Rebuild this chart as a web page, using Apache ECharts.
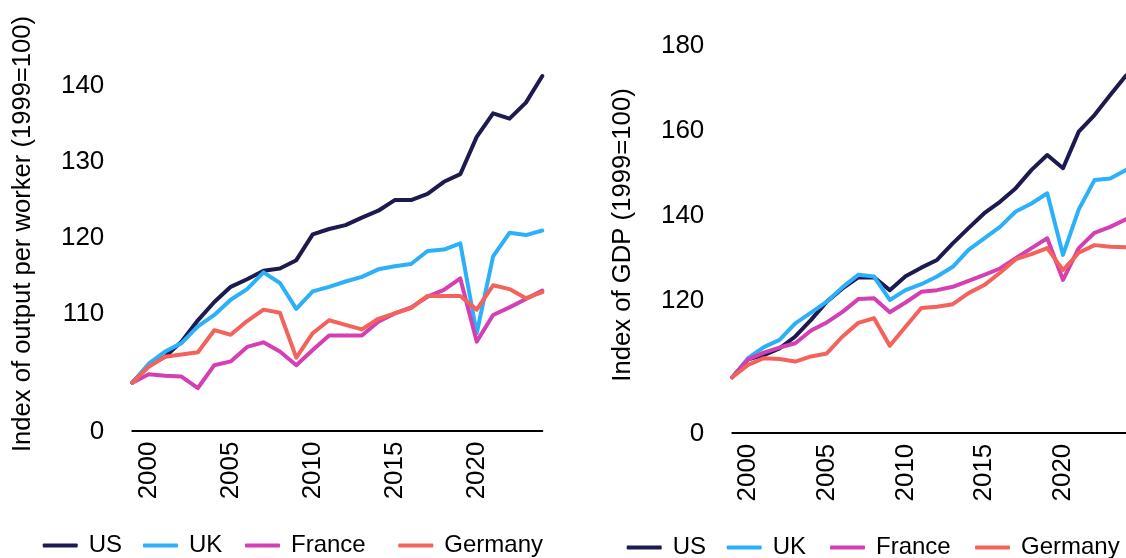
<!DOCTYPE html>
<html>
<head>
<meta charset="utf-8">
<script src="https://cdn.jsdelivr.net/npm/echarts@6/dist/echarts.min.js"></script>
<style>
html,body{margin:0;padding:0;background:#fff;}
#c{width:1126px;height:558px;}
</style>
</head>
<body>
<div id="c"></div>
<script>
// ---- data ----
const years = ['1999','2000','2001','2002','2003','2004','2005','2006','2007','2008','2009','2010','2011','2012','2013','2014','2015','2016','2017','2018','2019','2020','2021','2022','2023','2024'];
const seriesNames = ['US','UK','France','Germany'];

// Index of output per worker (1999=100)
const prodUS = [100,102.3,103.4,105.4,108.2,110.6,112.6,113.6,114.7,115.0,116.1,119.5,120.2,120.7,121.7,122.6,124.0,124.0,124.8,126.4,127.4,132.3,135.4,134.7,136.8,140.3];
const prodUK = [100,102.5,104.1,105.2,107.4,108.9,110.9,112.3,114.5,113.1,109.7,112.0,112.6,113.3,113.9,114.9,115.3,115.6,117.3,117.5,118.3,106.5,116.6,119.7,119.4,120.0];
const prodFrance = [100,101.1,100.9,100.8,99.3,102.3,102.8,104.7,105.3,104.1,102.3,104.3,106.2,106.2,106.2,108.0,109.1,109.9,111.3,112.2,113.7,105.4,108.9,109.9,111.0,112.1];
const prodGermany = [100,102.1,103.4,103.7,104.0,106.9,106.3,108.1,109.6,109.2,103.3,106.5,108.2,107.6,107.0,108.4,109.1,109.8,111.4,111.4,111.4,109.6,112.8,112.3,111.1,111.9];

// Index of GDP (1999=100)
const gdpUS = [100,104.2,105.2,106.8,109.6,113.5,117.8,120.9,123.5,123.5,120.5,123.8,125.8,127.6,131.5,135.1,138.6,141.3,144.5,148.8,152.3,149.2,157.8,161.7,166.4,171.0];
const gdpUK = [100,104.5,107.1,108.8,112.7,115.2,117.8,121.2,124.1,123.7,118.2,120.5,121.9,123.7,126.0,130.0,132.7,135.4,139.0,140.9,143.3,128.8,139.5,146.4,146.8,148.8];
const gdpFrance = [100,104.2,105.8,107.0,108.0,111.0,112.9,115.4,118.4,118.6,115.3,117.6,120.1,120.5,121.3,122.7,124.1,125.6,128.0,130.4,132.7,122.9,130.4,134.0,135.4,137.2];
const gdpGermany = [100,102.9,104.5,104.3,103.7,104.9,105.6,109.6,112.8,113.9,107.4,111.9,116.3,116.6,117.2,119.8,121.7,124.6,127.8,129.0,130.4,125.2,129.3,131.1,130.7,130.6];

// tick labels
const leftTicks = [110,120,130,140];
const rightTicks = [120,140,160,180];
const bottomLabel = '0';

const leftName = 'Index of output per worker (1999=100)';
const rightName = 'Index of GDP (1999=100)';

// ---- styles ----
const colors = {US:'#1c1a4e', UK:'#2bb0f9', France:'#d43fb4', Germany:'#f3625b'};
const FONT = '"Liberation Sans", Arial, sans-serif';

const leftMin = 93.72, leftMax = 145.36;
const rightMin = 86.96, rightMax = 180;

function yAxisCfg(idx, min, max, ticks, name, shift, nameSize){
  return {
    type:'value', gridIndex: idx, min:min, max:max,
    axisLine:{show:false}, axisTick:{show:false}, splitLine:{show:false},
    axisLabel:{
      customValues:[min].concat(ticks),
      margin:28, fontSize:26, fontFamily:FONT, color:'#000',
      formatter:function(v){ return v < 100 ? '{z|' + bottomLabel + '}' : '{n|' + Math.round(v) + '}'; },
      rich:{
        n:{fontSize:26, fontFamily:FONT, color:'#000', padding:[shift,0,0,0]},
        z:{fontSize:26, fontFamily:FONT, color:'#000', padding:[3,0,0,0]}
      }
    },
    name:name, nameLocation:'middle', nameGap:96,
    nameTextStyle:{fontSize:nameSize, fontFamily:FONT, color:'#000'}
  };
}
function xAxisCfg(idx){
  return {
    type:'category', gridIndex: idx, data: years, boundaryGap:false,
    axisLine:{lineStyle:{color:'#000', width:2}},
    axisTick:{show:false}, splitLine:{show:false},
    axisLabel:{
      rotate:90, margin:11, fontSize:26, fontFamily:FONT, color:'#000',
      interval:function(i, v){ return (+v) % 5 === 0; }
    }
  };
}
function lineSeries(name, data, idx){
  return {
    type:'line', name:name, data:data, xAxisIndex:idx, yAxisIndex:idx,
    symbol:'none', silent:true, animation:false,
    color: colors[name],
    lineStyle:{width:4, color:colors[name], join:'round', cap:'round'},
    itemStyle:{color:colors[name]}
  };
}
const legendLeftL = [42.7, 143, 245, 398.3];
const legendLeftR = [626.7, 726.7, 830, 975];
const legends = [];
seriesNames.forEach(function(n, i){
  [[legendLeftL[i], 531.5], [legendLeftR[i], 533.5]].forEach(function(p){
    legends.push({
      data:[n], left:p[0], top:p[1], icon:'roundRect', itemWidth:35, itemHeight:4,
      selectedMode:false, padding:0,
      textStyle:{fontSize:24, fontFamily:FONT, color:'#000', lineHeight:28, padding:[0,0,0,6]}
    });
  });
});

const chart = echarts.init(document.getElementById('c'), null, {renderer:'canvas'});
chart.setOption({
  backgroundColor:'#fff',
  animation:false,
  color:[colors.US, colors.UK, colors.France, colors.Germany],
  grid:[
    {left:132.3, right:583.7, top:37.5, bottom:127.5},
    {left:732.3, right:-7.6, top:37.3, bottom:125.3}
  ],
  xAxis:[xAxisCfg(0), xAxisCfg(1)],
  yAxis:[
    yAxisCfg(0, leftMin, leftMax, leftTicks, leftName, 15, 25.6),
    yAxisCfg(1, rightMin, rightMax, rightTicks, rightName, 18, 25.7)
  ],
  legend: legends,
  series:[
    lineSeries('US', prodUS, 0),
    lineSeries('UK', prodUK, 0),
    lineSeries('France', prodFrance, 0),
    lineSeries('Germany', prodGermany, 0),
    lineSeries('US', gdpUS, 1),
    lineSeries('UK', gdpUK, 1),
    lineSeries('France', gdpFrance, 1),
    lineSeries('Germany', gdpGermany, 1)
  ]
});
</script>
</body>
</html>
